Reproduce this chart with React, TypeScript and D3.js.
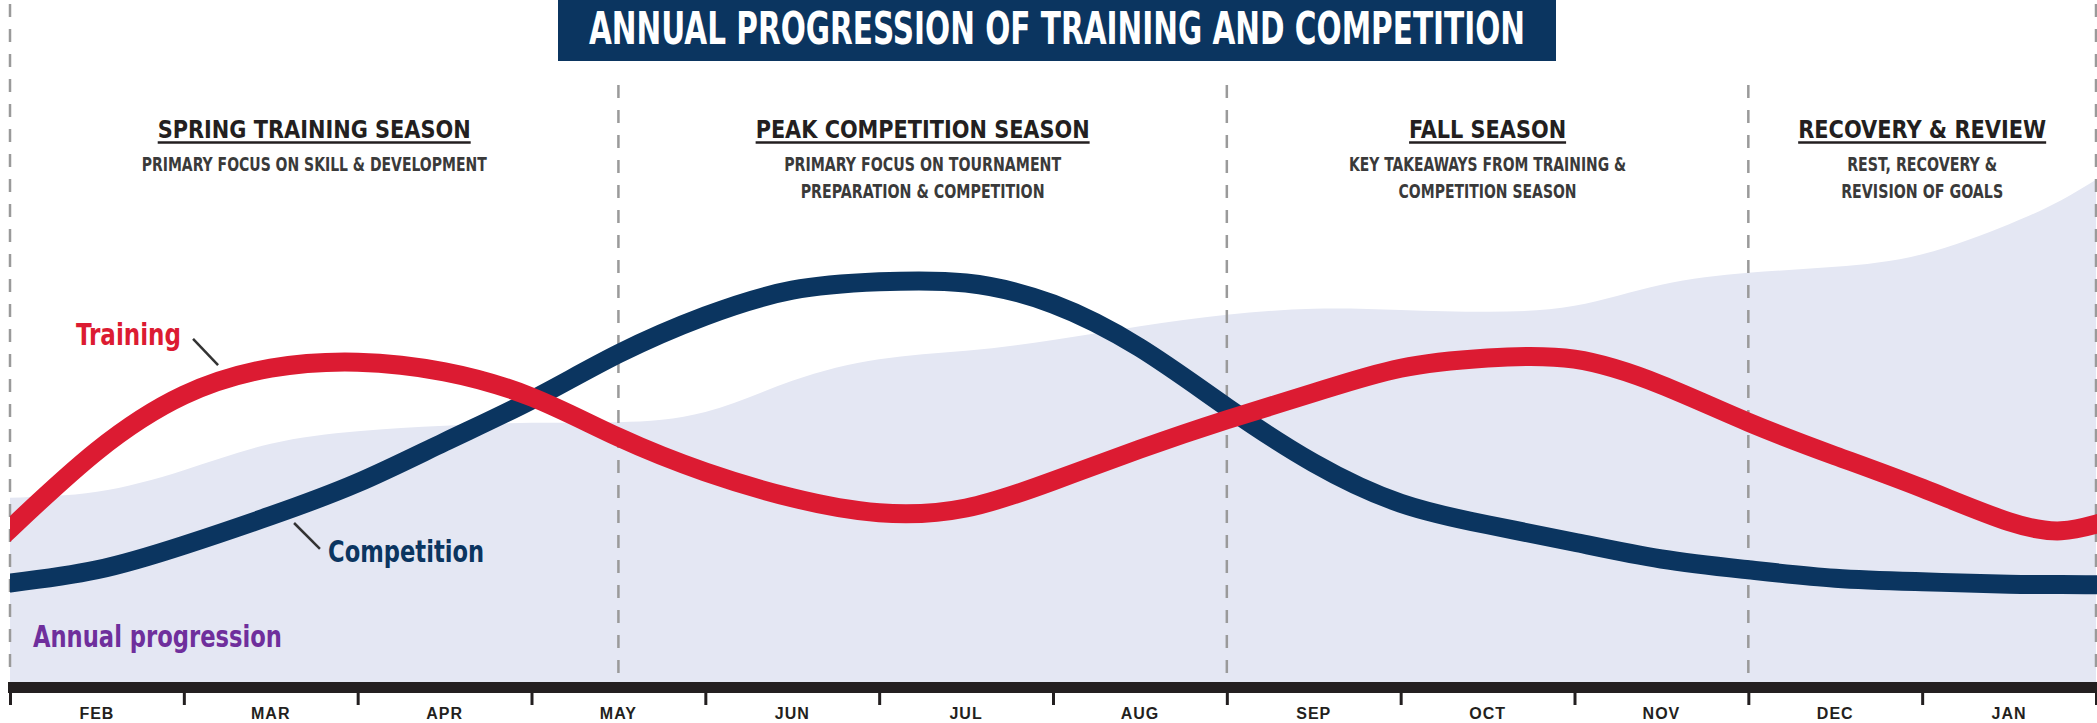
import { useEffect, useRef } from 'react';
import * as d3 from 'd3';

// month bands along the bottom axis, year runs Feb -> Jan
const months = ['FEB', 'MAR', 'APR', 'MAY', 'JUN', 'JUL', 'AUG', 'SEP', 'OCT', 'NOV', 'DEC', 'JAN'];

// sample positions, in months since the start of February
const positions = [0, 0.5, 1, 1.5, 2, 2.5, 3, 3.5, 4, 4.5, 5, 5.5, 6, 6.5, 7, 7.5, 8, 8.5, 9, 9.5, 10, 10.5, 11, 11.5, 11.8, 12];

// relative intensity (0-100)
const training = [25.5, 38.5, 47.8, 52.3, 53.3, 51.7, 47.5, 40.8, 35.0, 30.7, 28.2, 29.0, 33.5, 38.8, 43.7, 48.2, 52.3, 54.0, 53.8, 49.5, 43.3, 37.7, 32.3, 26.7, 25.2, 26.3];
const competition = [16.5, 18.7, 22.8, 27.7, 33.2, 40.0, 47.0, 54.7, 61.0, 65.3, 66.7, 66.5, 63.0, 55.7, 45.8, 36.5, 29.8, 26.2, 23.3, 20.5, 18.7, 17.3, 16.7, 16.3, 16.25, 16.2];
const progression = [30.7, 31.7, 35.3, 39.7, 41.8, 42.7, 43.2, 43.3, 45.0, 50.2, 53.8, 55.2, 57.0, 59.3, 61.2, 62.2, 62.0, 61.7, 62.7, 66.2, 68.2, 69.2, 71.3, 76.3, 80.3, 83.7];

// season boundaries (months)
const dividers = [0, 3.5, 7, 10, 12];

const seasonTitles = ['SPRING TRAINING SEASON', 'PEAK COMPETITION SEASON', 'FALL SEASON', 'RECOVERY & REVIEW'];
const seasonNotes = [
  ['PRIMARY FOCUS ON SKILL & DEVELOPMENT'],
  ['PRIMARY FOCUS ON TOURNAMENT', 'PREPARATION & COMPETITION'],
  ['KEY TAKEAWAYS FROM TRAINING &', 'COMPETITION SEASON'],
  ['REST, RECOVERY &', 'REVISION OF GOALS'],
];

const chartTitle = 'ANNUAL PROGRESSION OF TRAINING AND COMPETITION';

const titleWidths = [313, 334, 157, 248];
const noteWidths = [[345], [277, 244], [277, 178], [150, 162]];

export default function App() {
  const ref = useRef<SVGSVGElement | null>(null);

  useEffect(() => {
    if (!ref.current) return;

    const svg = d3.select(ref.current);
    svg.selectAll('*').remove();

    const width = 2097;
    const height = 723;
    const base = 682;
    const narrow = "'Liberation Sans Narrow', 'DejaVu Sans Condensed', 'Liberation Sans', sans-serif";
    const red = '#dc1b32';
    const navy = '#0b3560';

    const x = d3.scaleLinear().domain([0, 12]).range([10, 2096]);
    const y = d3.scaleLinear().domain([0, 100]).range([base, 82]);

    svg.attr('width', width).attr('height', height);

    svg.append('defs')
      .append('clipPath')
      .attr('id', 'plot-clip')
      .append('rect')
      .attr('x', x(0))
      .attr('y', 0)
      .attr('width', x(12) - x(0) + 2)
      .attr('height', base);

    const series = (vals: number[]) => positions.map((p, i) => [p, vals[i]] as [number, number]);

    // annual progression area
    svg.append('path')
      .datum(series(progression))
      .attr('d', d3.area<[number, number]>()
        .x(d => x(d[0]))
        .y0(base)
        .y1(d => y(d[1]))
        .curve(d3.curveNatural))
      .attr('fill', '#e4e7f3');

    // season dividers
    svg.append('g')
      .selectAll('line')
      .data(dividers)
      .join('line')
      .attr('x1', d => x(d))
      .attr('x2', d => x(d))
      .attr('y1', (d, i) => (i === 0 || i === dividers.length - 1 ? 4 : 85))
      .attr('y2', base - 4)
      .attr('stroke', '#9a9a9a')
      .attr('stroke-width', 2.5)
      .attr('stroke-dasharray', '13 12');

    const line = d3.line<[number, number]>()
      .x(d => x(d[0]))
      .y(d => y(d[1]))
      .curve(d3.curveNatural);

    const lines = svg.append('g').attr('clip-path', 'url(#plot-clip)');
    lines.append('path')
      .datum(series(competition))
      .attr('d', line)
      .attr('fill', 'none')
      .attr('stroke', navy)
      .attr('stroke-width', 19)
      .attr('stroke-linecap', 'square');
    lines.append('path')
      .datum(series(training))
      .attr('d', line)
      .attr('fill', 'none')
      .attr('stroke', red)
      .attr('stroke-width', 19)
      .attr('stroke-linecap', 'square');

    // axis band + ticks
    svg.append('rect')
      .attr('x', x(0) - 2)
      .attr('y', base)
      .attr('width', x(12) - x(0) + 4)
      .attr('height', 11)
      .attr('fill', '#231f20');

    const axis = svg.append('g')
      .attr('transform', `translate(0,${base + 11})`)
      .call(d3.axisBottom(x).tickValues(d3.range(0, 13)).tickSize(12).tickFormat(() => ''));
    axis.select('.domain').remove();
    axis.selectAll('.tick line').attr('stroke', '#231f20').attr('stroke-width', 3);

    svg.append('g')
      .selectAll('text')
      .data(months)
      .join('text')
      .attr('x', (d, i) => x(i + 0.5))
      .attr('y', 719)
      .attr('text-anchor', 'middle')
      .attr('font-family', "'Liberation Sans', Arial, sans-serif")
      .attr('font-weight', 700)
      .attr('font-size', 16)
      .attr('letter-spacing', 1)
      .attr('fill', '#231f20')
      .text(d => d);

    // title box
    svg.append('rect')
      .attr('x', 558)
      .attr('y', -2)
      .attr('width', 998)
      .attr('height', 63)
      .attr('fill', navy);
    svg.append('text')
      .attr('x', 1057)
      .attr('y', 44)
      .attr('text-anchor', 'middle')
      .attr('font-family', narrow)
      .attr('font-weight', 700)
      .attr('font-size', 45)
      .attr('textLength', 936)
      .attr('lengthAdjust', 'spacingAndGlyphs')
      .attr('fill', '#ffffff')
      .text(chartTitle);

    // season headings
    seasonTitles.forEach((title, i) => {
      const cx = (x(dividers[i]) + x(dividers[i + 1])) / 2;
      const w = titleWidths[i];
      svg.append('text')
        .attr('x', cx)
        .attr('y', 138)
        .attr('text-anchor', 'middle')
        .attr('font-family', narrow)
        .attr('font-weight', 700)
        .attr('font-size', 24)
        .attr('textLength', w)
        .attr('lengthAdjust', 'spacingAndGlyphs')
        .attr('fill', '#231f20')
        .text(title);
      svg.append('line')
        .attr('x1', cx - w / 2)
        .attr('x2', cx + w / 2)
        .attr('y1', 142.5)
        .attr('y2', 142.5)
        .attr('stroke', '#231f20')
        .attr('stroke-width', 2.5);
      seasonNotes[i].forEach((note, j) => {
        svg.append('text')
          .attr('x', cx)
          .attr('y', 171 + j * 27)
          .attr('text-anchor', 'middle')
          .attr('font-family', narrow)
          .attr('font-weight', 700)
          .attr('font-size', 20)
          .attr('textLength', noteWidths[i][j])
          .attr('lengthAdjust', 'spacingAndGlyphs')
          .attr('fill', '#3a3a3a')
          .text(note);
      });
    });

    // series labels with leader lines
    const leader = (m1: number, v1: number, m2: number, v2: number) =>
      svg.append('line')
        .attr('x1', x(m1)).attr('y1', y(v1))
        .attr('x2', x(m2)).attr('y2', y(v2))
        .attr('stroke', '#333333')
        .attr('stroke-width', 2.5);

    const label = (txt: string, m: number, v: number, color: string, w: number) =>
      svg.append('text')
        .attr('x', x(m))
        .attr('y', y(v))
        .attr('font-family', narrow)
        .attr('font-weight', 700)
        .attr('font-size', 30)
        .attr('textLength', w)
        .attr('lengthAdjust', 'spacingAndGlyphs')
        .attr('fill', color)
        .text(txt);

    label('Training', 0.38, 56.2, red, 105);
    leader(1.053, 57.2, 1.197, 52.8);
    label('Competition', 1.83, 20, navy, 156);
    leader(1.634, 26.5, 1.783, 22.2);
    label('Annual progression', 0.132, 5.8, '#6f2f9c', 249);
  }, []);

  return (
    <div style={{ position: 'absolute', left: 0, top: 0 }}>
      <svg ref={ref}></svg>
    </div>
  );
}
